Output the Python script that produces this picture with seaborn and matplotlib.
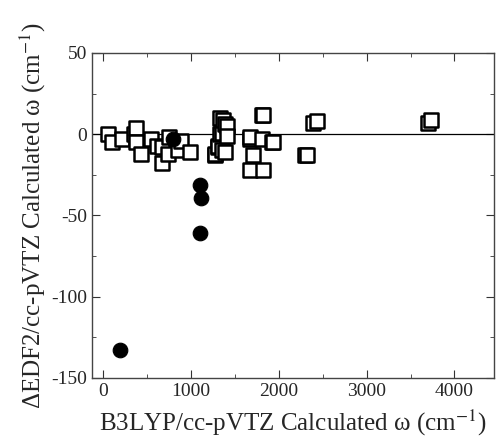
import numpy as np
import pandas as pd
import seaborn as sns
import matplotlib.pyplot as plt
from matplotlib.ticker import MultipleLocator

# open squares
sq_x = [60, 100, 220, 355, 375, 375, 435, 550, 610, 665, 675, 735, 755, 850, 890, 985,
        1270, 1270, 1305, 1310, 1330, 1330, 1350, 1350, 1365, 1385, 1385, 1410, 1410,
        1670, 1670, 1670, 1710, 1810, 1810, 1820, 1825, 1920, 1935,
        2300, 2320, 2395, 2440, 3700, 3735]
sq_y = [0, -5, -3, 0, 4, -5, -12, -3, -7, -8, -18, -12, -2, -10, -4, -11,
        -13, -12, -8, -7, 10, 0, 1, -10, 9, 6, -11, 5, -1,
        -3, -2, -22, -13, 12, -3, -22, 12, -5, -5,
        -13, -13, 7, 8, 7, 9]

# filled circles
ci_x = [195, 800, 1100, 1110, 1100]
ci_y = [-133, -3, -31, -39, -61]

sq = pd.DataFrame({'x': sq_x, 'y': sq_y})
ci = pd.DataFrame({'x': ci_x, 'y': ci_y})

sns.set_style('ticks')
plt.rcParams['font.family'] = ['Liberation Serif', 'DejaVu Serif']
plt.rcParams['mathtext.fontset'] = 'stix'
plt.rcParams['axes.unicode_minus'] = False

fig = plt.figure(figsize=(4.98, 4.41), dpi=100)
ax = fig.add_axes([0.185, 0.143, 0.807, 0.737])

ax.axhline(0, color='black', lw=0.9, zorder=1)
sns.scatterplot(data=sq, x='x', y='y', marker='s', s=95, facecolor='white',
                edgecolor='black', linewidth=1.8, ax=ax, zorder=3)
sns.scatterplot(data=ci, x='x', y='y', marker='o', s=110, color='black',
                edgecolor='black', ax=ax, zorder=4)

ax.set_xlim(-125, 4450)
ax.set_ylim(-150, 50)
ax.xaxis.set_major_locator(MultipleLocator(1000))
ax.xaxis.set_minor_locator(MultipleLocator(500))
ax.yaxis.set_major_locator(MultipleLocator(50))
ax.yaxis.set_minor_locator(MultipleLocator(25))
ax.tick_params(which='both', direction='in', top=True, right=True, labelsize=14, color='#333333')
ax.tick_params(which='major', length=6)
ax.tick_params(which='minor', length=3)
for sp in ax.spines.values():
    sp.set_color('#444444')
    sp.set_linewidth(1.0)

ax.set_xlabel('B3LYP/cc-pVTZ Calculated ω (cm$^{-1}$)', fontsize=18, labelpad=6)
ax.set_ylabel('ΔEDF2/cc-pVTZ Calculated ω (cm$^{-1}$)', fontsize=18, labelpad=2)

fig.savefig('out.png', dpi=100)
